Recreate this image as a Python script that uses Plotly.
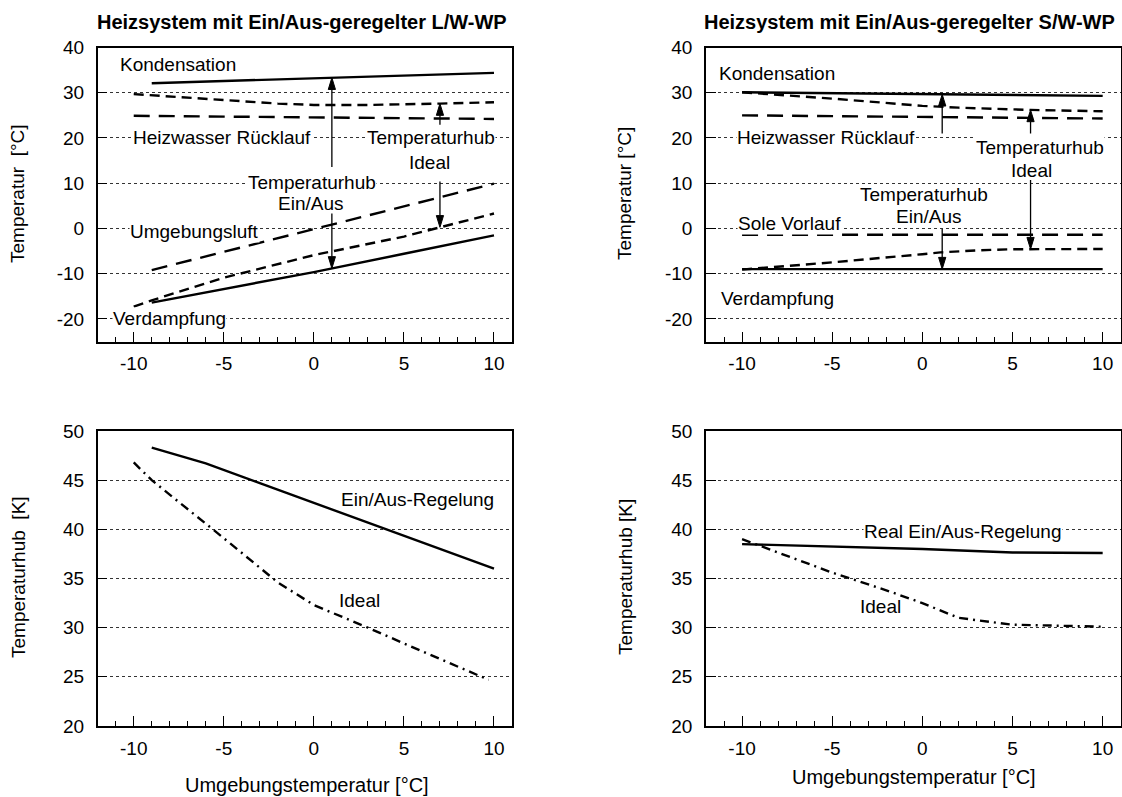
import numpy as np
import plotly.graph_objects as go

FONT = "Liberation Sans, Arial, Helvetica, sans-serif"
FS = 19
W, H = 1122, 797

# ---- L/W-WP (air/water heat pump), temperatures in °C over ambient temperature ----
lw_kond_x = [-9, 0, 10]
lw_kond_y = [32.1, 33.2, 34.4]
lw_vorlauf_x = [-10, -2, 0, 3, 7, 10]
lw_vorlauf_y = [29.7, 27.6, 27.3, 27.3, 27.6, 27.9]
lw_ruecklauf_x = [-10, 10]
lw_ruecklauf_y = [24.9, 24.2]
lw_luft_x = [-9, 10]
lw_luft_y = [-9.2, 9.9]
lw_verd_ideal_x = [-10, -9, -5, 0, 5, 10]
lw_verd_ideal_y = [-17.3, -15.9, -10.9, -5.9, -1.8, 3.3]
lw_verd_x = [-9, -5, 0, 5, 10]
lw_verd_y = [-16.4, -13.4, -9.65, -5.6, -1.55]

# ---- S/W-WP (brine/water heat pump) ----
sw_kond_x = [-10, 10]
sw_kond_y = [30.1, 29.3]
sw_vorlauf_x = [-10, -5, 0, 2, 6, 10]
sw_vorlauf_y = [30.1, 28.7, 27.1, 26.7, 26.2, 25.9]
sw_ruecklauf_x = [-10, 10]
sw_ruecklauf_y = [25.0, 24.3]
sw_sole_x = [-10, 10]
sw_sole_y = [-1.4, -1.4]
sw_verd_ideal_x = [-10, -5, 0, 1, 3, 5, 10]
sw_verd_ideal_y = [-9.1, -7.5, -5.7, -5.3, -4.85, -4.6, -4.55]
sw_verd_x = [-10, 10]
sw_verd_y = [-9.0, -9.0]

# ---- temperature lift in K ----
lw_hub_x = [-9, -6, -3, 0, 5, 10]
lw_hub_y = [48.3, 46.7, 44.7, 42.7, 39.4, 36.0]
lw_hub_ideal_x = [-10, -9, -5, -2, 0, 3, 6, 9.7]
lw_hub_ideal_y = [46.8, 45.0, 39.1, 34.6, 32.3, 30.0, 27.6, 24.7]
sw_hub_x = [-10, -5, 0, 5, 10]
sw_hub_y = [38.5, 38.25, 38.0, 37.65, 37.6]
sw_hub_ideal_x = [-10, -5, -2, 0, 2, 5, 10]
sw_hub_ideal_y = [39.0, 35.6, 33.8, 32.5, 31.0, 30.3, 30.1]

# tick values / labels (plain hyphen minus)
x_ticks = [-10, -5, 0, 5, 10]
x_tick_text = ["-10", "-5", "0", "5", "10"]
t_ticks = [-20, -10, 0, 10, 20, 30, 40]
t_tick_text = ["-20", "-10", "0", "10", "20", "30", "40"]
k_ticks = [20, 25, 30, 35, 40, 45, 50]
k_tick_text = ["20", "25", "30", "35", "40", "45", "50"]

# positions of the lift arrows (ambient temperature)
lw_arrow_onoff_x, lw_arrow_ideal_x = 1.0, 7.0
sw_arrow_onoff_x, sw_arrow_ideal_x = 1.1, 6.0

LONG = "16px,9px"
SHORT = "10px,6px"
DASHDOT = "9px,5px,2px,5px"

fig = go.Figure()


def refs(ax):
    return ("x", "y") if ax == 1 else (f"x{ax}", f"y{ax}")


def add_line(ax, x, y, dash="solid", width=2.4):
    xr, yr = refs(ax)
    fig.add_trace(go.Scatter(x=x, y=y, mode="lines", xaxis=xr, yaxis=yr,
                             line=dict(color="black", width=width, dash=dash),
                             showlegend=False, hoverinfo="skip"))


def add_arrow(ax, x, y_tail, y_tip, head_len=2.6, half_w=0.2):
    xr, yr = refs(ax)
    s = 1 if y_tip > y_tail else -1
    base = y_tip - s * head_len
    fig.add_shape(type="line", xref=xr, yref=yr, x0=x, x1=x, y0=y_tail, y1=base,
                  line=dict(color="black", width=1.3))
    fig.add_shape(type="path", xref=xr, yref=yr,
                  path=f"M{x},{y_tip} L{x - half_w},{base} L{x + half_w},{base} Z",
                  fillcolor="black", line=dict(color="black", width=1))


def label(ax, x, y, text, bg=True, size=FS):
    xr, yr = refs(ax)
    fig.add_annotation(x=x, y=y, xref=xr, yref=yr, text=text, showarrow=False,
                       xanchor="center", yanchor="middle",
                       font=dict(family=FONT, size=size, color="black"),
                       bgcolor="white" if bg else "rgba(0,0,0,0)", borderpad=0)


# top-left curves
add_line(1, lw_kond_x, lw_kond_y)
add_line(1, lw_vorlauf_x, lw_vorlauf_y, SHORT)
add_line(1, lw_ruecklauf_x, lw_ruecklauf_y, LONG)
add_line(1, lw_luft_x, lw_luft_y, LONG)
add_line(1, lw_verd_ideal_x, lw_verd_ideal_y, SHORT)
add_line(1, lw_verd_x, lw_verd_y)

# top-right curves
add_line(2, sw_kond_x, sw_kond_y)
add_line(2, sw_vorlauf_x, sw_vorlauf_y, SHORT)
add_line(2, sw_ruecklauf_x, sw_ruecklauf_y, LONG)
add_line(2, sw_sole_x, sw_sole_y, LONG)
add_line(2, sw_verd_ideal_x, sw_verd_ideal_y, SHORT)
add_line(2, sw_verd_x, sw_verd_y)

# bottom curves
add_line(3, lw_hub_x, lw_hub_y)
add_line(3, lw_hub_ideal_x, lw_hub_ideal_y, DASHDOT)
add_line(4, sw_hub_x, sw_hub_y)
add_line(4, sw_hub_ideal_x, sw_hub_ideal_y, DASHDOT)

# lift arrows, tips sit on the curves
x = lw_arrow_onoff_x
add_arrow(1, x, 13.6, float(np.interp(x, lw_kond_x, lw_kond_y)))
add_arrow(1, x, 3.3, float(np.interp(x, lw_verd_x, lw_verd_y)))
x = lw_arrow_ideal_x
add_arrow(1, x, 22.9, float(np.interp(x, lw_vorlauf_x, lw_vorlauf_y)))
add_arrow(1, x, 10.4, float(np.interp(x, lw_verd_ideal_x, lw_verd_ideal_y)))
x = sw_arrow_onoff_x
add_arrow(2, x, 21.0, float(np.interp(x, sw_kond_x, sw_kond_y)))
add_arrow(2, x, -0.1, float(np.interp(x, sw_verd_x, sw_verd_y)))
x = sw_arrow_ideal_x
add_arrow(2, x, 21.0, float(np.interp(x, sw_vorlauf_x, sw_vorlauf_y)))
add_arrow(2, x, 10.7, float(np.interp(x, sw_verd_ideal_x, sw_verd_ideal_y)))

# curve labels
label(1, -7.57, 36.15, "Kondensation", bg=False)
label(1, -5.12, 20.07, "Heizwasser Rücklauf")
label(1, 6.52, 20.07, "Temperaturhub")
label(1, 6.43, 14.5, "Ideal", bg=False)
label(1, -0.08, 10.15, "Temperaturhub")
label(1, -0.18, 5.56, "Ein/Aus", bg=False)
label(1, -6.6, -0.6, "Umgebungsluft")
label(1, -8.03, -19.85, "Verdampfung")

label(2, -8.04, 34.3, "Kondensation", bg=False)
label(2, -5.37, 20.2, "Heizwasser Rücklauf")
label(2, 6.52, 18.0, "Temperaturhub")
label(2, 6.05, 12.8, "Ideal", bg=False)
label(2, 0.08, 7.43, "Temperaturhub", bg=False)
label(2, 0.32, 2.65, "Ein/Aus", bg=False)
label(2, -7.37, 1.18, "Sole Vorlauf")
label(2, -8.04, -15.6, "Verdampfung", bg=False)

label(3, 5.73, 43.05, "Ein/Aus-Regelung", bg=False)
label(3, 2.56, 32.8, "Ideal", bg=False)
label(4, 2.27, 39.77, "Real Ein/Aus-Regelung")
label(4, -2.31, 32.2, "Ideal", bg=False)


def paper(text, px, py, angle=0, bold=False, size=FS):
    fig.add_annotation(x=px / W, y=1 - py / H, xref="paper", yref="paper",
                       xanchor="center", yanchor="middle",
                       text=f"<b>{text}</b>" if bold else text, showarrow=False,
                       textangle=angle,
                       font=dict(family=FONT, size=size, color="black"))


paper("Heizsystem mit Ein/Aus-geregelter L/W-WP", 302, 22, bold=True, size=20)
paper("Heizsystem mit Ein/Aus-geregelter S/W-WP", 909, 22, bold=True, size=20)
paper("Temperatur\u00a0 [°C]", 18, 194, angle=-90)
paper("Temperatur [°C]", 625, 194, angle=-90)
paper("Temperaturhub\u00a0 [K]", 18, 577, angle=-90)
paper("Temperaturhub [K]", 625, 577, angle=-90)
paper("Umgebungstemperatur [°C]", 307, 785, size=20)
paper("Umgebungstemperatur [°C]", 914, 777, size=20)

tickfont = dict(family=FONT, size=FS, color="black")
left_dom = [97.7 / W, 512 / W]
right_dom = [706 / W, 1120.7 / W]
top_dom = [1 - 341.5 / H, 1 - 47.5 / H]
bot_dom = [1 - 726 / H, 1 - 431 / H]


def xax(domain, anchor):
    return dict(domain=domain, anchor=anchor, range=[-12, 11], automargin=False,
                showline=True, linecolor="black", linewidth=1.5, mirror=True,
                ticks="inside", ticklen=10, tickwidth=1.3, tickcolor="black",
                tickmode="array", tickvals=x_ticks, ticktext=x_tick_text,
                showgrid=False, zeroline=False, tickfont=tickfont,
                ticklabelstandoff=4,
                minor=dict(ticks="inside", ticklen=5, tickwidth=1.2, tickcolor="black",
                           tickmode="linear", dtick=1, tick0=0, showgrid=False))


def yax(domain, anchor, rng, vals, text):
    return dict(domain=domain, anchor=anchor, range=rng, automargin=False,
                showline=True, linecolor="black", linewidth=1.5, mirror=True,
                ticks="inside", ticklen=10, tickwidth=1.3, tickcolor="black",
                tickmode="array", tickvals=vals, ticktext=text,
                showgrid=True, gridcolor="#333333",
                gridwidth=1, griddash="dot", zeroline=False, tickfont=tickfont,
                ticklabelstandoff=8)


fig.update_layout(
    width=W, height=H, margin=dict(l=0, r=0, t=0, b=0, pad=0, autoexpand=False),
    paper_bgcolor="white", plot_bgcolor="white", showlegend=False,
    xaxis=xax(left_dom, "y"), yaxis=yax(top_dom, "x", [-25, 40], t_ticks, t_tick_text),
    xaxis2=xax(right_dom, "y2"), yaxis2=yax(top_dom, "x2", [-25, 40], t_ticks, t_tick_text),
    xaxis3=xax(left_dom, "y3"), yaxis3=yax(bot_dom, "x3", [20, 50], k_ticks, k_tick_text),
    xaxis4=xax(right_dom, "y4"), yaxis4=yax(bot_dom, "x4", [20, 50], k_ticks, k_tick_text),
)

fig.write_html("out.html")
